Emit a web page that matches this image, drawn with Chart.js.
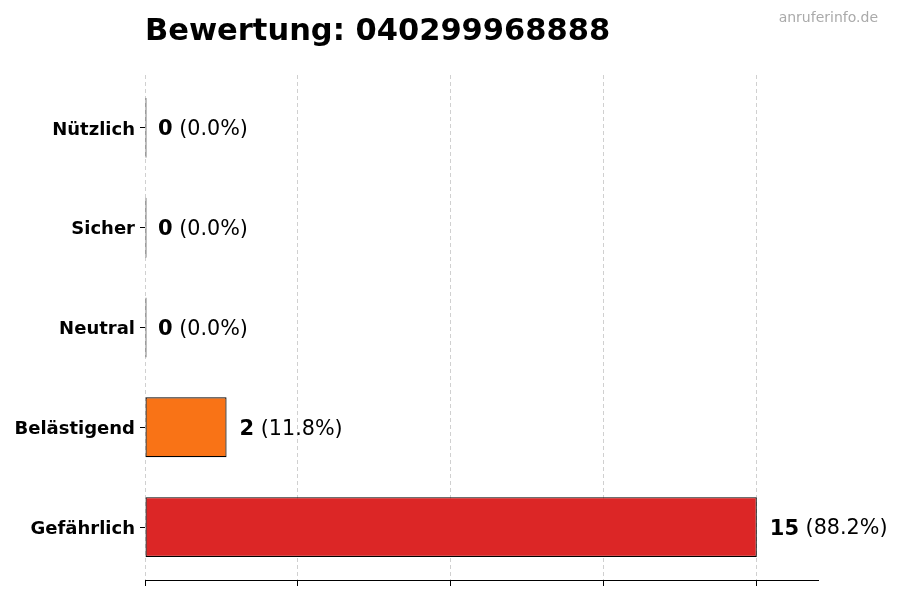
<!DOCTYPE html>
<html>
<head>
<meta charset="utf-8">
<script src="https://cdn.jsdelivr.net/npm/chart.js@4"></script>
<style>
  html, body { margin: 0; padding: 0; background: #fff; }
  canvas { display: block; }
</style>
</head>
<body>
<canvas id="bewertungChart" width="900" height="600"></canvas>
<script>
const categories = ['Nützlich', 'Sicher', 'Neutral', 'Belästigend', 'Gefährlich'];
const counts = [0, 0, 0, 2, 15];
const percents = ['0.0%', '0.0%', '0.0%', '11.8%', '88.2%'];
const barColors = ['#9ca3af', '#22c55e', '#9ca3af', '#f97316', '#dc2626'];
const xTicks = [0, 3.75, 7.5, 11.25, 15];
const xMax = 16.5;

const FONT = "'DejaVu Sans', sans-serif";

// Titel, Wasserzeichen und Wertbeschriftungen
const labelPlugin = {
    id: 'labels',
    afterDatasetsDraw(chart) {
        const ctx = chart.ctx;
        const area = chart.chartArea;
        ctx.save();
        ctx.fillStyle = '#000';
        ctx.font = 'bold 30.5px ' + FONT;
        ctx.textBaseline = 'alphabetic';
        ctx.textAlign = 'left';
        ctx.fillText('Bewertung: 040299968888', area.left, 40);

        ctx.fillStyle = '#aaaaaa';
        ctx.font = '14px ' + FONT;
        ctx.textAlign = 'right';
        ctx.fillText('anruferinfo.de', 878, 22);

        const meta = chart.getDatasetMeta(0);
        ctx.textAlign = 'left';
        ctx.textBaseline = 'middle';
        meta.data.forEach((bar, i) => {
            const x0 = chart.scales.x.getPixelForValue(counts[i]) + 13;
            const y0 = bar.y + 2;
            ctx.fillStyle = '#000';
            ctx.font = 'bold 21px ' + FONT;
            const num = String(counts[i]);
            ctx.fillText(num, x0, y0);
            const w = ctx.measureText(num).width;
            ctx.font = '20.7px ' + FONT;
            ctx.fillText(' (' + percents[i] + ')', x0 + w, y0);
        });
        ctx.restore();
    }
};

const ctx = document.getElementById('bewertungChart').getContext('2d');
const chart = new Chart(ctx, {
    type: 'bar',
    data: {
        datasets: [{
            data: counts.map((c, i) => ({ x: c, y: i })),
            backgroundColor: barColors,
            borderColor: '#000',
            borderWidth: 1.2,
            borderSkipped: false,
            minBarLength: 1.5,
            barPercentage: 0.6,
            categoryPercentage: 1.0
        }]
    },
    options: {
        indexAxis: 'y',
        responsive: false,
        animation: false,
        devicePixelRatio: 1,
        layout: { padding: { top: 75, right: 82, bottom: 0, left: 0 } },
        plugins: {
            legend: { display: false },
            tooltip: { enabled: false },
            title: { display: false }
        },
        scales: {
            x: {
                type: 'linear',
                min: 0,
                max: xMax,
                afterBuildTicks: (scale) => {
                    scale.ticks = xTicks.map(v => ({ value: v }));
                },
                afterFit: (scale) => { scale.height = 20; },
                ticks: { display: false },
                grid: {
                    color: '#d0d0d0',
                    lineWidth: 1,
                    drawTicks: true,
                    tickLength: 6,
                    tickColor: '#000',
                    tickWidth: 1
                },
                border: { display: true, color: '#000', width: 1, dash: [4, 3] }
            },
            y: {
                type: 'linear',
                reverse: true,
                offset: false,
                min: -0.53,
                max: categories.length - 1 + 0.53,
                afterBuildTicks: (scale) => {
                    scale.ticks = categories.map((c, i) => ({ value: i }));
                },
                afterFit: (scale) => { scale.width = 145; },
                ticks: {
                    color: '#000',
                    padding: 5,
                    labelOffset: 2,
                    font: { family: FONT, size: 18, weight: 'bold' },
                    callback: (v) => categories[v]
                },
                grid: {
                    offset: false,
                    drawOnChartArea: false,
                    drawTicks: true,
                    tickLength: 5,
                    tickColor: '#000'
                },
                border: { display: false }
            }
        }
    },
    plugins: [labelPlugin]
});
</script>
</body>
</html>
